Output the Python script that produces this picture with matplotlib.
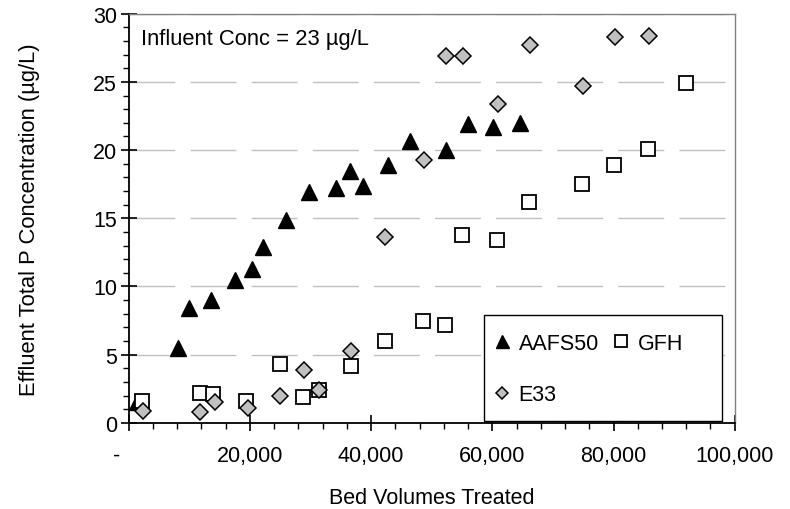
import numpy as np
import matplotlib.pyplot as plt
from matplotlib.ticker import MultipleLocator, FuncFormatter
from matplotlib.patches import Rectangle

plt.rcParams['font.family'] = ['Liberation Sans', 'DejaVu Sans']

# AAFS50 (triangles)
aafs_x = [1300, 8100, 9900, 13500, 17500, 20300, 22200, 25900, 29700, 34200,
          36500, 38600, 42700, 46400, 52300, 56000, 60100, 64500]
aafs_y = [1.5, 5.5, 8.4, 9.0, 10.5, 11.3, 12.9, 14.9, 16.9, 17.2,
          18.5, 17.4, 18.9, 20.7, 20.0, 21.9, 21.7, 22.0]

# GFH (open squares)
gfh_x = [2200, 11700, 13900, 19400, 24900, 28800, 31400, 36600, 42300, 48600,
         52200, 55000, 60800, 66000, 74800, 80000, 85700, 92000]
gfh_y = [1.6, 2.2, 2.1, 1.6, 4.3, 1.9, 2.4, 4.2, 6.0, 7.5,
         7.2, 13.8, 13.4, 16.2, 17.5, 18.9, 20.1, 24.9]

# E33 (grey diamonds)
e33_x = [2400, 11700, 14200, 19600, 25000, 28900, 31400, 36700, 42300, 48700,
         52400, 55200, 61000, 66200, 75000, 80200, 85900]
e33_y = [0.9, 0.8, 1.5, 1.1, 2.0, 3.9, 2.4, 5.3, 13.6, 19.3,
         26.9, 26.9, 23.4, 27.7, 24.7, 28.3, 28.4]

fig = plt.figure(figsize=(7.9, 5.1), dpi=100)
ax = fig.add_axes([0.163, 0.169, 0.767, 0.802])

h1, = ax.plot(aafs_x, aafs_y, ls='none', marker='^', ms=12, mfc='black', mec='black',
              mew=1, label='AAFS50', zorder=3, clip_on=False)
h2, = ax.plot(gfh_x, gfh_y, ls='none', marker='s', ms=10.5, mfc='white', mec='black',
              mew=1.3, label='GFH', zorder=4, clip_on=False)
h3, = ax.plot(e33_x, e33_y, ls='none', marker='D', ms=8.3, mfc='#c0c0c0', mec='black',
              mew=1.1, label='E33', zorder=5, clip_on=False)

ax.set_xlim(0, 100000)
ax.set_ylim(0, 30)
ax.xaxis.set_major_locator(MultipleLocator(20000))
ax.xaxis.set_minor_locator(MultipleLocator(4000))
ax.yaxis.set_major_locator(MultipleLocator(5))
ax.yaxis.set_minor_locator(MultipleLocator(1))
ax.xaxis.set_major_formatter(FuncFormatter(lambda v, p: '-    ' if v == 0 else f'{v:,.0f}'))

ax.tick_params(which='major', direction='inout', length=11, width=1.2, labelsize=15.5, colors='black')
ax.tick_params(which='minor', direction='out', length=4.5, width=1)
ax.tick_params(axis='x', which='major', pad=10.5)
ax.tick_params(axis='y', which='major', pad=3)

ax.yaxis.grid(True, which='major', color='#c0c0c0', lw=1, ls=(0, (33, 11)), zorder=0)
ax.set_axisbelow(True)

for s in ['left', 'bottom']:
    ax.spines[s].set_linewidth(1.3)
    ax.spines[s].set_color('black')
for s in ['top', 'right']:
    ax.spines[s].set_linewidth(1)
    ax.spines[s].set_color('#808080')

ax.set_xlabel('Bed Volumes Treated', fontsize=15.5, labelpad=15)
ax.set_ylabel('Effluent Total P Concentration (µg/L)', fontsize=15.8, labelpad=38)

ax.text(0.021, 0.939, 'Influent Conc = 23 µg/L', transform=ax.transAxes,
        fontsize=15.8, va='center', ha='left')

box = Rectangle((0.586, 0.005), 0.393, 0.259, transform=ax.transAxes,
                facecolor='white', edgecolor='black', lw=1, zorder=6)
ax.add_patch(box)
leg = ax.legend(handles=[h1, h3, h2], ncol=2, loc='upper left',
                bbox_to_anchor=(0.567, 0.267), frameon=False, fontsize=15.5,
                markerscale=0.78, handlelength=1.0, handletextpad=0.25,
                columnspacing=0.55, labelspacing=1.4, borderpad=0.4)
leg.set_zorder(7)

fig.savefig('out.png', dpi=100)
